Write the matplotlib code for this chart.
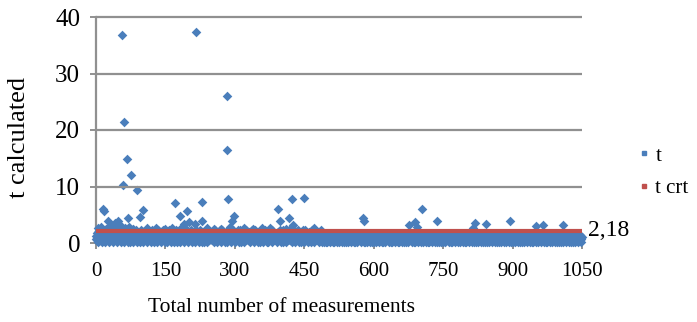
import numpy as np
import matplotlib.pyplot as plt
from matplotlib.lines import Line2D

plt.rcParams['font.family'] = ['Liberation Serif', 'DejaVu Serif']

# t values of the dense band, one digit per measurement (value = digit * 0.25)
band_rows = [
    "3527184629 3517482639 1527483619 5273846152 9374816253 9481726354 9182736451",
    "2836174952 1638274915 3726185493 2817364958 1629374851 3948271635 2719384625",
    "1836492751 3728164953 2917384615 4829173658 3916284735 1827364951 8273649152",
    "3628174953 2817394615 3728164952 1938274653 2847163958 3716284953 1829374651",
    "2837164952 3718294653 1827364951 2938174653 1728394652 3817264953 2719384651",
    "3628174952 1738294651 2817364953 1928374652 3718264951 2839174653 1728364952",
    "2736185942 1827364951 3718264952 1928374651 2837164953 1729384652 2816374951",
    "2315243162 1423516243 3152413625 1243516324 2514361243 1325416253 2413526314",
    "1324152634 2513462315 3142516243 2415361524 1352416253 3214526134 1425316245",
    "2314526143 1532416253 2415316245 3124516342 1435216254 2314526153 1542316254",
    "3215426143 2413526153 1324516243 2516341526 3142516234 1425316245 2314526143",
    "1532416254 2413526135 3214526143 1425361524 2315426153 1324516243 2514361527",
    "3124516243 1452316254 2315426134 1524316245 3142516253 2413526154 1325416243",
    "2514361524 1342516253 3215426143 2413516254 1532416243 3124526153 2415316254",
    "1324516243 2513461524 3142516253 1425316245 2314526143 1532416254 2413526134",
]
band_digits = "".join(band_rows).replace(" ", "")
band_t = [int(c) * 0.25 for c in band_digits]
band_n = list(range(len(band_t)))

# points standing out above the band
out_n = [57, 216, 284, 283, 60, 67, 75, 59, 89, 285, 16, 18, 26, 69, 96, 101, 48, 40, 33,
         171, 181, 197, 228, 229, 202, 213, 293, 298, 394, 397, 417, 423, 450, 425, 358,
         576, 580, 704, 737, 676, 690, 693, 818, 842, 894, 951, 965, 1009, 815,
         5, 10, 22, 30, 37, 44, 52, 63, 72, 80, 110, 130, 150, 165, 185, 190, 240, 255,
         270, 290, 320, 340, 375, 410, 470]
out_t = [36.9, 37.4, 26.0, 16.4, 21.5, 14.8, 12.0, 10.3, 9.3, 7.7, 6.0, 5.6, 3.9, 4.4, 4.6, 5.9, 3.9, 3.6, 3.2,
         7.0, 4.8, 5.6, 7.2, 3.9, 3.8, 3.4, 3.9, 4.7, 6.0, 3.9, 4.4, 7.8, 7.9, 3.2, 2.7,
         4.5, 3.9, 6.1, 3.9, 3.1, 3.7, 2.9, 3.5, 3.3, 3.9, 3.0, 3.1, 3.2, 2.7,
         2.6, 2.9, 2.5, 3.0, 2.7, 2.4, 3.1, 2.6, 2.8, 2.5, 2.6, 2.7, 2.5, 2.6, 2.9, 3.3, 2.6, 2.5,
         2.4, 2.8, 2.6, 2.5, 2.6, 2.5, 2.6]

t_crt = 2.18
x_ticks = [0, 150, 300, 450, 600, 750, 900, 1050]
y_ticks = [0, 10, 20, 30, 40]

blue = '#4a7ebb'
red = '#c0504d'
grid = '#909090'

fig = plt.figure(figsize=(6.97, 3.22), dpi=100)
ax = fig.add_axes([96 / 697, 1 - 243 / 322, 486 / 697, 226 / 322])
ax.set_xlim(0, 1050)
ax.set_ylim(0, 40)

ax.scatter(band_n, band_t, marker='D', s=24, color=blue, lw=0, clip_on=False, zorder=3)
ax.scatter(out_n, out_t, marker='D', s=24, color=blue, lw=0, clip_on=False, zorder=3)
ax.plot([0, 1050], [t_crt, t_crt], color=red, lw=3, solid_capstyle='butt', zorder=4)
ax.annotate("2,18", (1050, t_crt), xytext=(4, 0), textcoords='offset points',
            va='center', ha='left', fontsize=17, annotation_clip=False)

ax.set_xticks(x_ticks)
ax.set_yticks(y_ticks)
ax.tick_params(axis='y', length=4.5, width=1.4, color=grid, pad=7, labelsize=18)
ax.tick_params(axis='x', length=4, width=1.4, color=grid, pad=10, labelsize=15)
for s in ['top', 'right']:
    ax.spines[s].set_visible(False)
for s in ['left', 'bottom']:
    ax.spines[s].set_color(grid)
    ax.spines[s].set_linewidth(1.6)

# horizontal gridlines, added at figure level on the axes' y scale
for yv in y_ticks[1:]:
    fig.add_artist(Line2D([0, 1], [yv, yv], transform=ax.get_yaxis_transform(),
                          color=grid, lw=1.6, solid_capstyle='butt', zorder=1))

ax.set_xlabel("Total number of measurements", fontsize=15.5)
ax.xaxis.set_label_coords(0.381, -0.245)
ax.set_ylabel("t calculated", fontsize=19)
ax.yaxis.set_label_coords(-0.136, 0.465)

handles = [Line2D([], [], ls='none', marker='s', ms=3, color=blue),
           Line2D([], [], ls='none', marker='s', ms=3, color=red)]
fig.legend(handles, ["t", "t crt"], loc='center left', bbox_to_anchor=(620 / 697, 1 - 172 / 322),
           frameon=False, fontsize=15, handlelength=0.5, handletextpad=0.3, labelspacing=0.6)

fig.savefig("out.png", dpi=100)
